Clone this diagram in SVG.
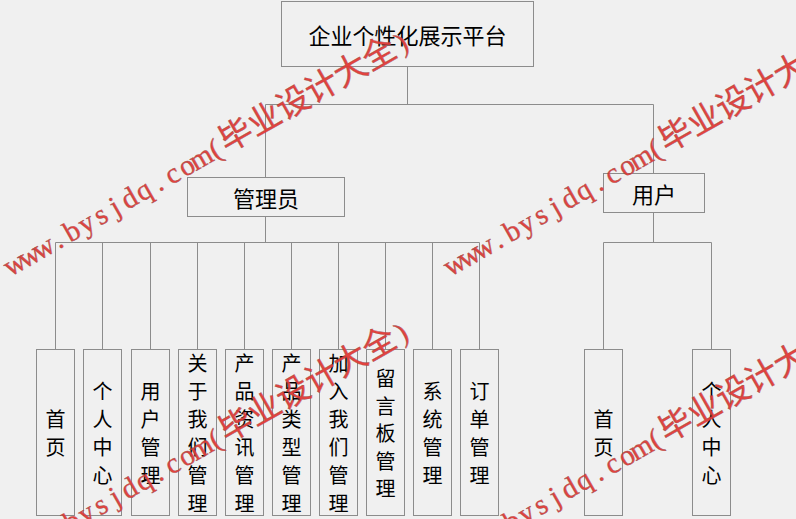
<svg xmlns="http://www.w3.org/2000/svg" width="796" height="519" viewBox="0 0 796 519">
<style>
.box{fill:#f0f0f0;stroke:#8c8c8c;stroke-width:1}
.lbl{font-family:"Noto Sans CJK SC","Noto Sans",sans-serif;fill:#000;text-anchor:middle;dominant-baseline:central}
.h{font-size:22px}
.v{font-size:20px}
.conn{fill:none;stroke:#8c8c8c;stroke-width:1}
.wm{font-family:"Liberation Serif","Noto Sans CJK SC",serif;font-size:29px;fill:#e23a36;stroke:#9a4a4a;stroke-width:0.4;text-anchor:middle;opacity:0.95}
.wm .cjk{font-size:33px;font-family:"Noto Sans CJK SC",serif}
</style>
<defs>
<text id="wmt" class="wm" x="8.25 24.75 41.25 57.75 74.25 90.75 107.25 123.75 140.25 156.75 173.25 189.75 206.25 222.75 239.25 264 297 330 363 396 429 453.75">www.bysjdq.com(<tspan class="cjk">毕业设计大全</tspan>)</text>
</defs>
<rect width="796" height="519" fill="#f0f0f0"/>
<g id="connectors" class="conn">
<path d="M407.5,66.5V104.5M265.5,104.5H653.5M265.5,104.5V177.5M653.5,104.5V173.5"/>
<path d="M265.5,216.5V242.5M55.5,242.5H479.5"/>
<path d="M55.5,242.5V349.5M102.5,242.5V349.5M150.5,242.5V349.5M197.5,242.5V349.5M244.5,242.5V349.5M291.5,242.5V349.5M338.5,242.5V349.5M385.5,242.5V349.5M432.5,242.5V349.5M479.5,242.5V349.5"/>
<path d="M653.5,212.5V242.5M603.5,242.5H711.5M603.5,242.5V349.5M711.5,242.5V349.5"/>
</g>
<g id="root"><rect class="box" x="281.5" y="1.5" width="252" height="65"/><text class="lbl h" x="407.5" y="34">企业个性化展示平台</text></g>
<g id="admin"><rect class="box" x="187.5" y="177.5" width="157" height="39"/><text class="lbl h" x="266" y="197">管理员</text></g>
<g id="user"><rect class="box" x="603.5" y="173.5" width="101" height="39"/><text class="lbl h" x="654" y="193">用户</text></g>
<g id="a-home"><rect class="box" x="36.5" y="349.5" width="38" height="166"/><text class="lbl v"><tspan x="55.5" y="418">首</tspan><tspan x="55.5" y="446">页</tspan></text></g>
<g id="a-center"><rect class="box" x="83.5" y="349.5" width="38" height="166"/><text class="lbl v"><tspan x="102.5" y="390">个</tspan><tspan x="102.5" y="418">人</tspan><tspan x="102.5" y="446">中</tspan><tspan x="102.5" y="474">心</tspan></text></g>
<g id="a-users"><rect class="box" x="131.5" y="349.5" width="38" height="166"/><text class="lbl v"><tspan x="150.5" y="390">用</tspan><tspan x="150.5" y="418">户</tspan><tspan x="150.5" y="446">管</tspan><tspan x="150.5" y="474">理</tspan></text></g>
<g id="a-about"><rect class="box" x="178.5" y="349.5" width="38" height="166"/><text class="lbl v"><tspan x="197.5" y="362">关</tspan><tspan x="197.5" y="390">于</tspan><tspan x="197.5" y="418">我</tspan><tspan x="197.5" y="446">们</tspan><tspan x="197.5" y="474">管</tspan><tspan x="197.5" y="502">理</tspan></text></g>
<g id="a-news"><rect class="box" x="225.5" y="349.5" width="38" height="166"/><text class="lbl v"><tspan x="244.5" y="362">产</tspan><tspan x="244.5" y="390">品</tspan><tspan x="244.5" y="418">资</tspan><tspan x="244.5" y="446">讯</tspan><tspan x="244.5" y="474">管</tspan><tspan x="244.5" y="502">理</tspan></text></g>
<g id="a-types"><rect class="box" x="272.5" y="349.5" width="38" height="166"/><text class="lbl v"><tspan x="291.5" y="362">产</tspan><tspan x="291.5" y="390">品</tspan><tspan x="291.5" y="418">类</tspan><tspan x="291.5" y="446">型</tspan><tspan x="291.5" y="474">管</tspan><tspan x="291.5" y="502">理</tspan></text></g>
<g id="a-join"><rect class="box" x="319.5" y="349.5" width="38" height="166"/><text class="lbl v"><tspan x="338.5" y="362">加</tspan><tspan x="338.5" y="390">入</tspan><tspan x="338.5" y="418">我</tspan><tspan x="338.5" y="446">们</tspan><tspan x="338.5" y="474">管</tspan><tspan x="338.5" y="502">理</tspan></text></g>
<g id="a-board"><rect class="box" x="366.5" y="349.5" width="38" height="166"/><text class="lbl v"><tspan x="385.5" y="377">留</tspan><tspan x="385.5" y="404.5">言</tspan><tspan x="385.5" y="432">板</tspan><tspan x="385.5" y="459.5">管</tspan><tspan x="385.5" y="487">理</tspan></text></g>
<g id="a-system"><rect class="box" x="413.5" y="349.5" width="38" height="166"/><text class="lbl v"><tspan x="432.5" y="390">系</tspan><tspan x="432.5" y="418">统</tspan><tspan x="432.5" y="446">管</tspan><tspan x="432.5" y="474">理</tspan></text></g>
<g id="a-orders"><rect class="box" x="460.5" y="349.5" width="38" height="166"/><text class="lbl v"><tspan x="479.5" y="390">订</tspan><tspan x="479.5" y="418">单</tspan><tspan x="479.5" y="446">管</tspan><tspan x="479.5" y="474">理</tspan></text></g>
<g id="u-home"><rect class="box" x="584.5" y="349.5" width="38" height="166"/><text class="lbl v"><tspan x="603.5" y="418">首</tspan><tspan x="603.5" y="446">页</tspan></text></g>
<g id="u-center"><rect class="box" x="692.5" y="349.5" width="38" height="166"/><text class="lbl v"><tspan x="711.5" y="390">个</tspan><tspan x="711.5" y="418">人</tspan><tspan x="711.5" y="446">中</tspan><tspan x="711.5" y="474">心</tspan></text></g>
<g id="watermarks">
<use href="#wmt" transform="translate(12,276) rotate(-29.7)"/>
<use href="#wmt" transform="translate(452,276) rotate(-29.7)"/>
<use href="#wmt" transform="translate(12,566) rotate(-29.7)"/>
<use href="#wmt" transform="translate(452,566) rotate(-29.7)"/>
</g>
</svg>
